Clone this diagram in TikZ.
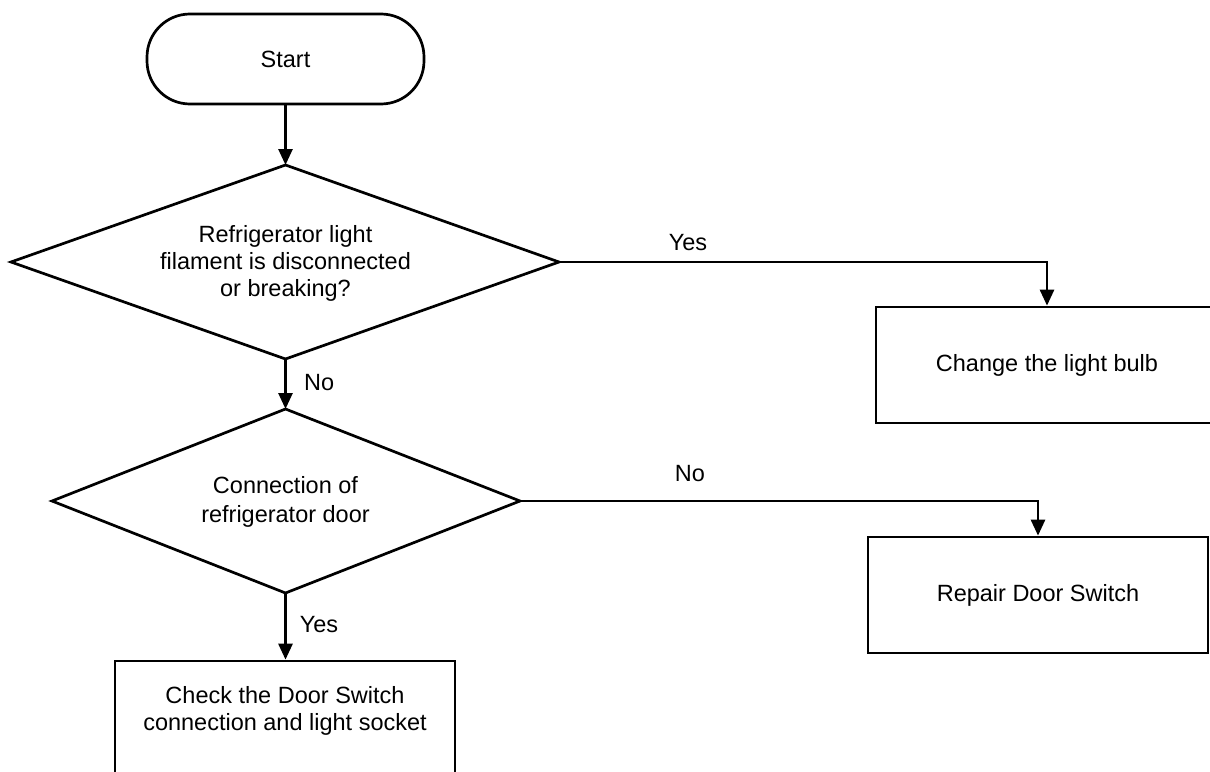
\documentclass[tikz,border=0pt]{standalone}
\usepackage{fontspec}
\setmainfont{Liberation Sans}
\usetikzlibrary{shapes.geometric,arrows.meta}
\begin{document}
\begin{tikzpicture}[x=1pt,y=-1pt,
  every node/.style={font=\fontsize{23.5}{27}\selectfont},
  line/.style={line width=2.7pt, black},
  arr/.style={line, -{Triangle[length=16pt,width=14pt]}},
  startbox/.style={draw, line width=2.7pt, rounded corners=43pt, minimum width=277pt, minimum height=90pt, inner sep=0pt},
  decision/.style={draw, line width=2.7pt, line join=miter},
  process/.style={draw, rectangle, line width=2.7pt, align=center, inner sep=0pt},
  lbl/.style={inner sep=0pt}]
\clip (0,0) rectangle (1210,771);
\fill[white] (0,0) rectangle (1210,771);
\node[startbox] (start) at (285.5,59) {Start};
% decision 1
\coordinate (d1n) at (285.5,165);
\coordinate (d1s) at (285.5,359);
\coordinate (d1w) at (11,262);
\coordinate (d1e) at (559,262);
\draw[decision] (d1n) -- (d1e) -- (d1s) -- (d1w) -- cycle;
\node[align=center] (d1) at (285.5,263) {Refrigerator light\\filament is disconnected\\or breaking?};
% decision 2
\coordinate (d2n) at (285.5,409);
\coordinate (d2s) at (285.5,593);
\coordinate (d2w) at (52,501);
\coordinate (d2e) at (520,501);
\draw[decision] (d2n) -- (d2e) -- (d2s) -- (d2w) -- cycle;
\node[align=center, font=\fontsize{23.5}{29}\selectfont] (d2) at (285.5,502) {Connection of\\refrigerator door};
\node[process, minimum width=342pt, minimum height=116pt] (b1) at (1047,365) {Change the light bulb};
\node[process, minimum width=340pt, minimum height=116pt] (b2) at (1038,595) {Repair Door Switch};
\node[process, minimum width=340pt, minimum height=120pt] (b3) at (285,721) {};
\node[align=center] (b3t) at (285,711) {Check the Door Switch\\connection and light socket};
\draw[arr] (start.south) -- (d1n);
\draw[arr] (d1s) -- (d2n);
\draw[arr] (d1e) -| (b1.north);
\draw[arr] (d2e) -| (b2.north);
\draw[arr] (d2s) -- (d2s |- b3.north);
\node[lbl] (lyes1) at (688,243) {Yes};
\node[lbl, anchor=west] (lno1) at (304,383) {No};
\node[lbl] (lno2) at (690,474) {No};
\node[lbl] (lyes2) at (319,625) {Yes};
\end{tikzpicture}
\end{document}
